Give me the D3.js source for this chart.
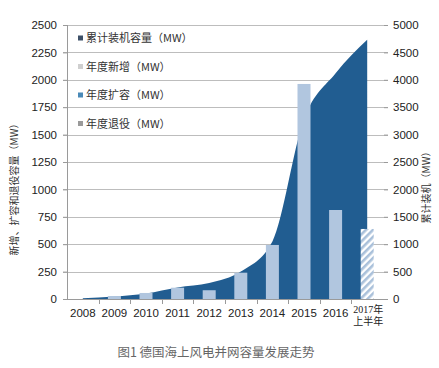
<!DOCTYPE html>
<html><head><meta charset="utf-8">
<script src="https://cdn.jsdelivr.net/npm/d3@7"></script>
<style>body{margin:0;background:#fff}svg{display:block}</style>
</head><body>
<script>
const categories = ["2008","2009","2010","2011","2012","2013","2014","2015","2016","2017年|上半年"];
const annualNew = [0, 27, 55, 103, 80, 240, 493, 1962, 812, 639];
const cumulative = [12, 45, 100, 210, 290, 500, 1050, 3280, 4120, 4730];
const leftTicks = [0,250,500,750,1000,1250,1500,1750,2000,2250,2500];
const rightTicks = [0,500,1000,1500,2000,2500,3000,3500,4000,4500,5000];
const legendItems = ["累计装机容量（MW）","年度新增（MW）","年度扩容（MW）","年度退役（MW）"];
const legendColors = ["#3d5068","#cfcfcf","#4a8ab8","#9a9a9a"];
const leftTitle = "新增、扩容和退役容量（MW）";
const rightTitle = "累计装机（MW）";
const caption = "图1 德国海上风电并网容量发展走势";

const W=439,H=368;
const svg=d3.select("body").append("svg").attr("width",W).attr("height",H);
const defs=svg.append("defs");
const pat=defs.append("pattern").attr("id","hatch").attr("patternUnits","userSpaceOnUse")
  .attr("width",5).attr("height",5).attr("patternTransform","rotate(45)");
pat.append("rect").attr("width",5).attr("height",5).attr("fill","#ffffff");
pat.append("rect").attr("width",2.6).attr("height",5).attr("fill","#a9c0da");

const x=d3.scaleBand().domain(categories).range([67,383]).paddingInner(0).paddingOuter(0);
const yL=d3.scaleLinear().domain([0,2500]).range([299,25]);
const yR=d3.scaleLinear().domain([0,5000]).range([299,25]);
const font="'Liberation Sans', Arial, sans-serif";
const cjk="'Noto Sans CJK SC', sans-serif";
const fmt=d3.format("d");

// gridlines
svg.append("g").selectAll("line").data(leftTicks.filter(d=>d>0)).join("line")
  .attr("x1",63).attr("x2",388).attr("y1",d=>Math.round(yL(d))+0.5).attr("y2",d=>Math.round(yL(d))+0.5)
  .attr("stroke","#bdbdbd").attr("stroke-width",1);

// area
const cx=d=>x(d)+x.bandwidth()/2;
const area=d3.area().x((d,i)=>cx(categories[i])).y0(yR(0)).y1(d=>yR(d)).curve(d3.curveMonotoneX);
svg.append("path").datum(cumulative).attr("d",area).attr("fill","#215d91");

// bars
const bw=13;
svg.append("g").selectAll("rect").data(annualNew).join("rect")
  .attr("x",(d,i)=>cx(categories[i])-bw/2).attr("width",bw)
  .attr("y",d=>yL(d)).attr("height",d=>yL(0)-yL(d))
  .attr("fill",(d,i)=>i===categories.length-1?"url(#hatch)":"#b1c6df");

// left axis
const gL=svg.append("g").attr("transform","translate(67,0)")
  .call(d3.axisLeft(yL).tickValues(leftTicks).tickFormat(fmt).tickSize(4).tickPadding(6));
gL.select(".domain").attr("stroke","#9a9a9a").attr("d","M0.5,25V299.5");
gL.selectAll(".tick line").attr("stroke","#9a9a9a");
gL.selectAll("text").attr("font-family",font).attr("font-size",11.5).attr("fill","#222");

// right axis
const gR=svg.append("g").attr("transform","translate(384,0)")
  .call(d3.axisRight(yR).tickValues(rightTicks).tickFormat(fmt).tickSize(4).tickPadding(5));
gR.select(".domain").remove();
gR.selectAll(".tick line").attr("stroke","#9a9a9a");
gR.selectAll("text").attr("font-family",font).attr("font-size",11.5).attr("fill","#222");

// bottom axis
svg.append("line").attr("x1",63).attr("x2",388).attr("y1",299.5).attr("y2",299.5).attr("stroke","#9a9a9a");
svg.append("g").selectAll("line").data(categories.slice(0,-1)).join("line")
  .attr("x1",d=>Math.round(x(d)+x.bandwidth())+0.5).attr("x2",d=>Math.round(x(d)+x.bandwidth())+0.5)
  .attr("y1",299).attr("y2",304).attr("stroke","#9a9a9a");
svg.append("g").selectAll("text").data(categories).join("text")
  .each(function(d){
    const t=d3.select(this);
    const parts=d.split("|");
    if(parts.length===1){
      t.attr("x",cx(d)).attr("y",317).attr("text-anchor","middle")
       .attr("font-family",font).attr("font-size",11.5).attr("fill","#222").text(d);
    } else {
      t.attr("text-anchor","middle").attr("font-family","'Liberation Serif', "+cjk).attr("font-size",10).attr("fill","#222");
      t.append("tspan").attr("x",cx(d)+1).attr("y",313).text(parts[0]);
      t.append("tspan").attr("x",cx(d)+1).attr("y",325).text(parts[1]);
    }
  });

// legend
const lg=svg.append("g");
legendItems.forEach((s,i)=>{
  const y=38+i*28.5;
  lg.append("rect").attr("x",78).attr("y",y-2.5).attr("width",5).attr("height",5).attr("fill",legendColors[i]);
  lg.append("text").attr("x",86).attr("y",y+4).attr("font-family",cjk).attr("font-size",11)
    .attr("fill","#333").text(s);
});

// axis titles
svg.append("text").attr("transform","translate(18,187) rotate(-90)").attr("text-anchor","middle")
  .attr("font-family",cjk).attr("font-size",10).attr("fill","#333").text(leftTitle);
svg.append("text").attr("transform","translate(430,185) rotate(-90)").attr("text-anchor","middle")
  .attr("font-family",cjk).attr("font-size",10).attr("fill","#333").text(rightTitle);

// caption
svg.append("text").attr("x",216).attr("y",357).attr("text-anchor","middle")
  .attr("font-family",cjk).attr("font-size",12.5).attr("fill","#666").text(caption);
</script>
</body></html>
